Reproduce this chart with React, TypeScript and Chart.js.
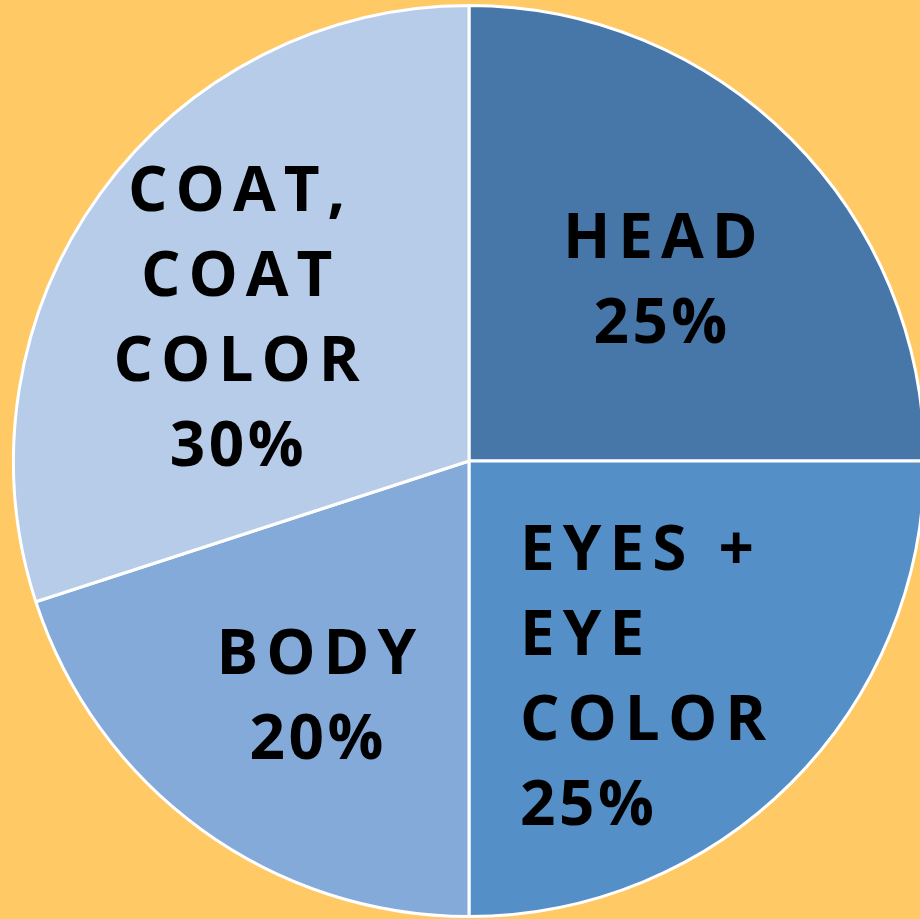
import React, { useEffect, useRef } from "react";
import { Chart, registerables } from "chart.js";

Chart.register(...registerables);

const categories = [
  ["HEAD"],
  ["EYES +", "EYE", "COLOR"],
  ["BODY"],
  ["COAT,", "COAT", "COLOR"],
];
const percentages = [25, 25, 20, 30];
const sliceColors = ["#4677A8", "#548FC7", "#83AAD9", "#B7CCE8"];

// label anchor offsets relative to the pie centre, in units of the outer radius
const LABEL_OFFSETS = [
  { dx: 0.42, dy: -0.40, align: "center" },
  { dx: 0.112, dy: 0.472, align: "left" },
  { dx: -0.335, dy: 0.512, align: "center" },
  { dx: -0.51, dy: -0.318, align: "center" },
];

const FONT_SIZE = 62;
const LINE_PITCH = 85;
const CAP_HALF = 22;
const TEXT_SPACING = 8;
const PCT_SPACING = 3.5;

const labelPlugin = {
  id: "sliceLabels",
  afterDatasetsDraw(chart: any) {
    const meta = chart.getDatasetMeta(0);
    const ctx = chart.ctx as CanvasRenderingContext2D;
    ctx.save();
    ctx.fillStyle = "#000000";
    ctx.font = `bold ${FONT_SIZE}px "Open Sans", sans-serif`;
    ctx.textBaseline = "alphabetic";
    ctx.textAlign = "left";
    meta.data.forEach((arc: any, i: number) => {
      const { x, y, outerRadius } = arc.getProps(["x", "y", "outerRadius"], true);
      const off = LABEL_OFFSETS[i];
      const lines = [...categories[i], `${percentages[i]}%`];
      const ax = x + off.dx * outerRadius;
      const ay = y + off.dy * outerRadius;
      const n = lines.length;
      lines.forEach((line, j) => {
        const sp = j === n - 1 ? PCT_SPACING : TEXT_SPACING;
        (ctx as any).letterSpacing = `${sp}px`;
        const w = ctx.measureText(line).width - sp;
        const cy = ay + (j - (n - 1) / 2) * LINE_PITCH;
        const lx = off.align === "left" ? ax : ax - w / 2;
        ctx.fillText(line, lx, cy + CAP_HALF);
      });
    });
    ctx.restore();
  },
};

export default function App() {
  const ref = useRef<HTMLCanvasElement>(null);
  useEffect(() => {
    if (!ref.current) return;
    const chart = new Chart(ref.current, {
      type: "pie",
      data: {
        labels: categories.map((c) => c.join(" ")),
        datasets: [
          {
            data: percentages,
            backgroundColor: sliceColors,
            borderColor: "#FFFFFF",
            borderWidth: 3,
          },
        ],
      },
      options: {
        responsive: false,
        animation: false,
        layout: { padding: 0 },
        plugins: {
          legend: { display: false },
          tooltip: { enabled: false },
        },
      },
      plugins: [labelPlugin],
    });
    return () => chart.destroy();
  }, []);
  return (
    <div
      style={{
        position: "fixed",
        left: 0,
        top: 0,
        width: 920,
        height: 919,
        overflow: "hidden",
        background: "#FFC966",
      }}
    >
      <canvas
        ref={ref}
        width={914}
        height={914}
        style={{ position: "absolute", left: 12, top: 4, width: 914, height: 914 }}
      />
    </div>
  );
}
